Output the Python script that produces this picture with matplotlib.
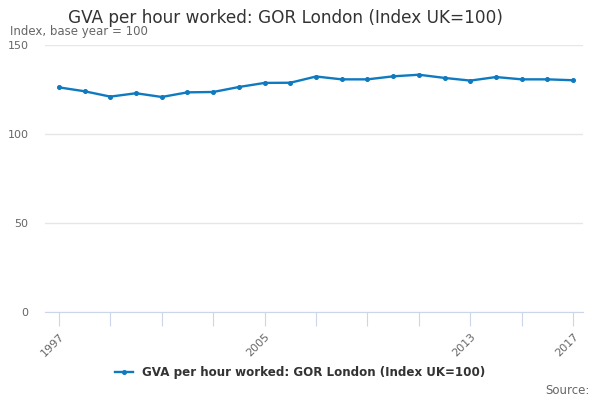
import matplotlib
matplotlib.use('Agg')
from matplotlib import pyplot as plt

# GVA per hour worked, London, index UK=100
years = list(range(1997, 2018))
gva = [126.2, 124.0, 121.0, 122.9, 120.8, 123.4, 123.6, 126.4, 128.7, 128.8,
       132.3, 130.7, 130.7, 132.4, 133.3, 131.5, 130.0, 132.0, 130.7, 130.7, 130.2]
tick_years = list(range(1997, 2018, 2))
labelled = [1997, 2005, 2013, 2017]

plt.rcParams['font.family'] = ['DejaVu Sans']

fig = plt.figure(figsize=(6, 4), dpi=100)
ax = fig.add_axes([0.075, 0.22, 0.897, 0.6675])

ax.plot(years, gva, color='#0f7ac0', linewidth=1.7, marker='o', markersize=2.6,
        label='GVA per hour worked: GOR London (Index UK=100)')

ax.set_ylim(0, 150)
ax.set_yticks([0, 50, 100, 150])
ax.set_xlim(1996.46, 2017.39)
ax.set_xticks(tick_years)
ax.set_xticklabels([str(y) if y in labelled else '' for y in tick_years],
                   rotation=45, ha='right', rotation_mode='anchor')

ax.grid(axis='y', color='#e6e6e6', linewidth=1)
ax.set_axisbelow(True)
for s in ['top', 'right', 'left']:
    ax.spines[s].set_visible(False)
ax.spines['bottom'].set_color('#ccd6eb')
ax.tick_params(axis='x', length=10, color='#ccd6eb', labelsize=8, labelcolor='#666666', pad=4)
ax.tick_params(axis='y', length=0, labelsize=8, labelcolor='#666666', pad=12)

fig.text(0.475, 0.955, 'GVA per hour worked: GOR London (Index UK=100)',
         ha='center', va='center', fontsize=12.2, color='#333333')
fig.text(0.017, 0.92, 'Index, base year = 100', ha='left', va='center',
         fontsize=8.5, color='#666666')
fig.text(0.982, 0.025, 'Source:', ha='right', va='center', fontsize=8.5, color='#666666')

leg = fig.legend(loc='center', bbox_to_anchor=(0.5, 0.068), frameon=False,
                 prop={'size': 8.6, 'weight': 'bold'}, handlelength=1.5)
for t in leg.get_texts():
    t.set_color('#333333')

fig.savefig('out.png', dpi=100)
